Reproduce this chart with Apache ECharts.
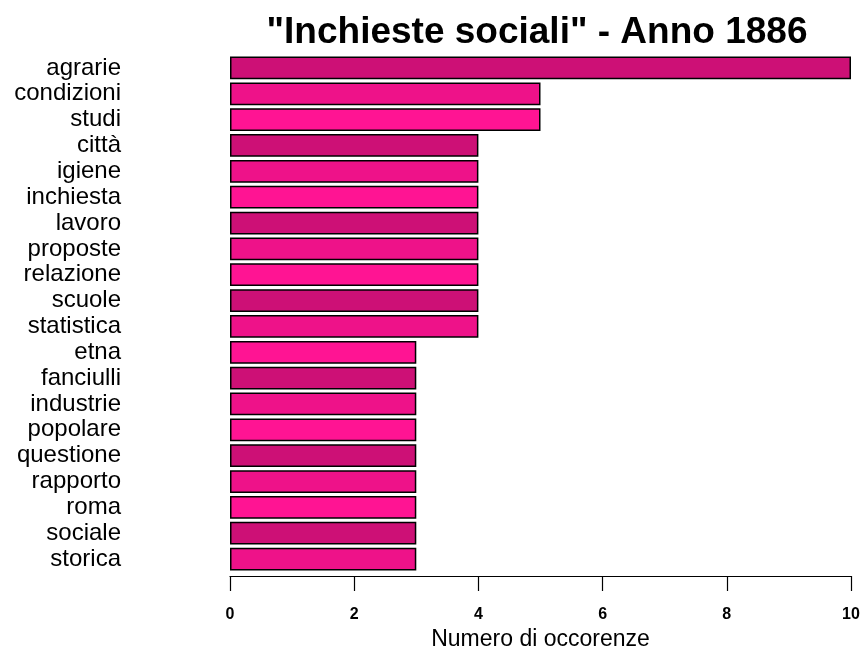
<!DOCTYPE html>
<html>
<head>
<meta charset="utf-8">
<script src="https://cdn.jsdelivr.net/npm/echarts@6/dist/echarts.min.js"></script>
<style>
html,body{margin:0;padding:0;background:#fff;}
#chart{width:863px;height:653px;}
</style>
</head>
<body>
<div id="chart"></div>
<script>
const categories = ["agrarie","condizioni","studi","città","igiene","inchiesta","lavoro","proposte","relazione","scuole","statistica","etna","fanciulli","industrie","popolare","questione","rapporto","roma","sociale","storica"];
const values = [10,5,5,4,4,4,4,4,4,4,4,3,3,3,3,3,3,3,3,3];
const palette = ["#CD1076","#EE1289","#FF1493"];
const xTicks = [0,2,4,6,8,10];
const titleText = '"Inchieste sociali" - Anno 1886';
const xTitle = "Numero di occorenze";

const FONT = 'Liberation Sans, Arial, sans-serif';
const chart = echarts.init(document.getElementById('chart'), null, {renderer:'canvas'});
chart.setOption({
  animation:false,
  backgroundColor:'#ffffff',
  title:{
    text:titleText,
    left:532, top:9, textAlign:'center',
    textStyle:{fontFamily:FONT,fontSize:37,fontWeight:'bold',color:'#000'}
  },
  grid:{left:230,right:12,top:55,bottom:81,containLabel:false,outerBoundsMode:'none'},
  xAxis:{
    type:'value',min:xTicks[0],max:xTicks[xTicks.length-1],interval:2,
    offset:4,
    axisLine:{show:true,lineStyle:{color:'#000',width:1.2}},
    axisTick:{show:true,length:15,lineStyle:{color:'#000',width:1.2}},
    splitLine:{show:false},
    axisLabel:{margin:31,fontFamily:FONT,fontSize:16,fontWeight:'bold',color:'#000'},
    name:xTitle,nameLocation:'middle',nameGap:50,
    nameTextStyle:{fontFamily:FONT,fontSize:23,color:'#000'}
  },
  yAxis:{
    type:'category',data:categories,inverse:true,
    axisLine:{show:false},axisTick:{show:false},splitLine:{show:false},
    axisLabel:{interval:0,margin:109,fontFamily:FONT,fontSize:24,color:'#000',align:'right'}
  },
  series:[{
    type:'bar',
    data:values.map((v,i)=>({value:v,itemStyle:{color:palette[i%3]}})),
    barCategoryGap:'12%',
    itemStyle:{borderColor:'#000',borderWidth:1.5}
  }]
});
</script>
</body>
</html>
